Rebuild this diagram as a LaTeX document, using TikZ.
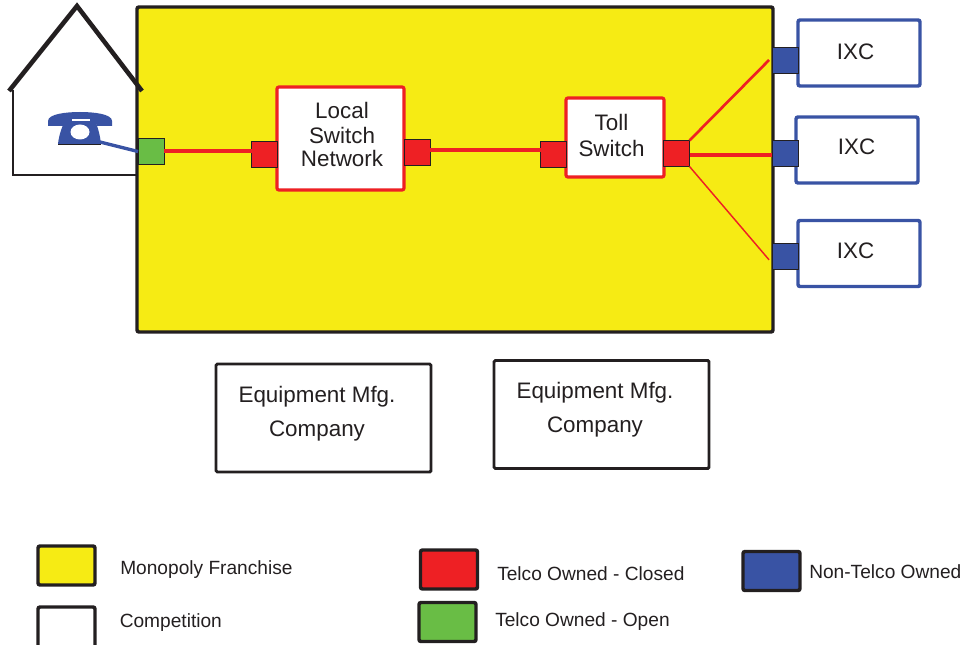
\documentclass[tikz,border=0pt]{standalone}
\usepackage{fontspec}
\setmainfont{Liberation Sans}
\usepackage{xcolor}
\definecolor{franchise}{HTML}{F6EB14}
\definecolor{closedred}{HTML}{EE2024}
\definecolor{opengreen}{HTML}{69BD45}
\definecolor{nontelco}{HTML}{3953A4}
\definecolor{inkblack}{HTML}{231F20}
\def\px{0.75pt}
\tikzset{
  port/.style={draw=inkblack,line width=0.7pt,inner sep=0pt,outer sep=0pt,minimum width=26*\px,minimum height=26*\px},
  redbox/.style={draw=closedred,line width=2.4pt,fill=white,rounded corners=1.5pt,inner sep=0pt,outer sep=0pt},
  ixcbox/.style={draw=nontelco,line width=2.6pt,fill=white,rounded corners=1.5pt,inner sep=0pt,outer sep=0pt,minimum width=122*\px,minimum height=66*\px},
  mfgbox/.style={draw=inkblack,line width=2.2pt,fill=white,rounded corners=1pt,inner sep=0pt,outer sep=0pt,minimum width=215*\px,minimum height=108*\px},
  swatch/.style={draw=inkblack,line width=2.6pt,rounded corners=1.5pt,inner sep=0pt,outer sep=0pt,minimum width=57*\px,minimum height=39*\px},
  boxtext/.style={text=inkblack,font=\fontsize{16.8}{18.4}\selectfont,align=center},
  keytext/.style={text=inkblack,font=\fontsize{14.35}{16}\selectfont,anchor=west,inner sep=0pt}
}
\begin{document}
\begin{tikzpicture}[x=0.75pt,y=-0.75pt]
  \useasboundingbox (0,0) rectangle (963,645);
  % franchise area
  \node[draw=inkblack,line width=2.6pt,fill=franchise,rounded corners=1.5pt,inner sep=0pt,minimum width=636*\px,minimum height=325*\px] (franchiseArea) at (455,169.5) {};
  % house
  \draw[inkblack,line width=1.4pt] (13,90) -- (13,175) -- (137,175);
  \draw[inkblack,line width=3.4pt] (9,91) -- (77,6) -- (142,91);
  % phone
  \fill[nontelco] (58,144) .. controls (59,134) and (63,124) .. (66,119) -- (94,119) .. controls (97,124) and (100,134) .. (101,144) -- cycle;
  \draw[inkblack,line width=0.5pt] (58,144) -- (101,144);
  \fill[white] (80,132) ellipse (9.5 and 7.5);
  \fill[nontelco] (48,121) .. controls (48,114) and (66,112) .. (80,112) .. controls (94,112) and (112,114) .. (112,121)
    -- (112,126) -- (97,126) .. controls (96,123) and (93,120) .. (90,119) -- (71,119) .. controls (68,120) and (65,123) .. (64,126) -- (48,126) -- cycle;
  \fill[white] (72,119) rectangle (90,121);
  \coordinate (phoneBase) at (100,142);
  % switches
  \node[redbox,minimum width=127*\px,minimum height=103*\px] (localSwitch) at (340.5,138.5) {};
  \node[boxtext] (localText) at (342,134.5) {Local\\[0.8pt]Switch\\[-1pt]Network};
  \node[redbox,minimum width=98*\px,minimum height=79*\px] (tollSwitch) at (615,137.5) {};
  \node[boxtext] (tollText) at (611.5,135.5) {Toll\\[1.5pt]Switch};
  % ports
  \node[port,fill=opengreen] (greenPort) at (151,151.5) {};
  \node[port,fill=closedred] (redA) at (264.5,154) {};
  \node[port,fill=closedred] (redB) at (417,152) {};
  \node[port,fill=closedred] (redC) at (553.5,154) {};
  \node[port,fill=closedred] (redD) at (676.5,153.5) {};
  % ixc
  \node[ixcbox] (ixcA) at (859,53) {};
  \node[ixcbox] (ixcB) at (857,150) {};
  \node[ixcbox] (ixcC) at (859,253.5) {};
  \node[boxtext] (ixcTextA) at (855.5,52) {IXC};
  \node[boxtext] (ixcTextB) at (856.5,147) {IXC};
  \node[boxtext] (ixcTextC) at (855.5,251) {IXC};
  \node[port,fill=nontelco,line width=0.4pt] (blueA) at (785,60) {};
  \node[port,fill=nontelco,line width=0.4pt] (blueB) at (785,153.5) {};
  \node[port,fill=nontelco,line width=0.4pt] (blueC) at (785,256.5) {};
  % connectors
  \draw[nontelco,line width=2.5pt] (phoneBase) -- (greenPort.west);
  \draw[closedred,line width=3pt] (greenPort.east) -- (greenPort.east -| redA.west);
  \draw[closedred,line width=3pt] ([yshift=1.5pt]redB.east) -- ([yshift=1.5pt]redB.east -| redC.west);
  \draw[closedred,line width=2pt] (redD.north east) -- ([xshift=-2.2pt]blueA.west);
  \draw[closedred,line width=3pt] ([yshift=-1pt]redD.east) -- ([yshift=-1pt]redD.east -| blueB.west);
  \draw[closedred,line width=1.1pt] (redD.south east) -- ([xshift=-2.2pt,yshift=-2.5pt]blueC.west);
  % equipment companies
  \node[mfgbox] (mfgA) at (323.5,418) {};
  \node[boxtext] at (317,413.5) (mfgTextA) {Equipment Mfg.\\[7.5pt]Company};
  \node[mfgbox] (mfgB) at (601.5,414.5) {};
  \node[boxtext] at (595,409.5) (mfgTextB) {Equipment Mfg.\\[7.5pt]Company};
  % key
  \node[swatch,fill=franchise] (keyYellow) at (66.5,565.5) {};
  \node[swatch,fill=white,minimum height=43*\px] (keyWhite) at (66.5,628.5) {};
  \node[swatch,fill=closedred] (keyRed) at (449,569.5) {};
  \node[swatch,fill=opengreen] (keyGreen) at (447.5,622) {};
  \node[swatch,fill=nontelco] (keyBlue) at (771.5,571) {};
  \node[keytext] (keyTextYellow) at (120,570) {Monopoly Franchise};
  \node[keytext] (keyTextWhite) at (119.5,623) {Competition};
  \node[keytext] (keyTextRed) at (497,574) {Telco Owned - Closed};
  \node[keytext] (keyTextGreen) at (495,622) {Telco Owned - Open};
  \node[keytext] (keyTextBlue) at (809,571.5) {Non-Telco Owned};
\end{tikzpicture}
\end{document}
